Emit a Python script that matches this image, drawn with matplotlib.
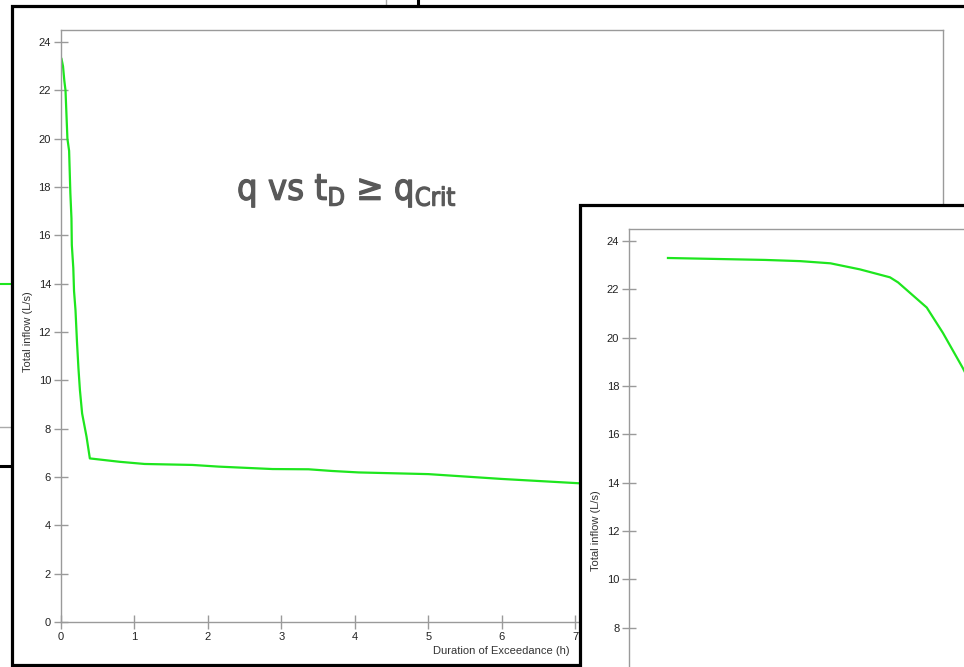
import matplotlib
matplotlib.use('Agg')
import matplotlib.pyplot as plt
import matplotlib.patheffects as pe
from matplotlib.patches import Rectangle
from matplotlib.lines import Line2D

# flow duration curve: total inflow exceeded for a given duration
duration_h = [0.01, 0.03, 0.048, 0.064, 0.09, 0.113, 0.13, 0.145, 0.15, 0.17,
              0.18, 0.2, 0.22, 0.24, 0.26, 0.29, 0.35, 0.395,
              0.8, 1.14, 1.79, 2.15, 2.88, 3.37, 3.69, 4.05, 5.0, 6.0, 7.0, 7.6]
inflow_ls = [23.3, 23.0, 22.4, 22.0, 20.0, 19.5, 17.75, 16.7, 15.6, 14.65,
             13.7, 12.9, 11.6, 10.5, 9.6, 8.63, 7.67, 6.77,
             6.63, 6.54, 6.5, 6.43, 6.33, 6.32, 6.25, 6.19, 6.12, 5.92, 5.75, 5.65]

# second panel, same axes layout
inset_h = [0.53, 1.85, 2.33, 2.74, 3.14, 3.55, 3.66, 4.05, 4.27, 4.54, 4.8]
inset_ls = [23.3, 23.22, 23.17, 23.08, 22.83, 22.5, 22.29, 21.25, 20.2, 18.75, 17.2]

y_ticks = list(range(0, 25, 2))
inset_y_ticks = list(range(8, 25, 2))
x_ticks = list(range(0, 13))

W, H = 964, 667
LINE = '#1ee61e'
SPINE = '#9a9a9a'
TXT = '#222222'
plt.rcParams['font.family'] = ['Liberation Sans', 'DejaVu Sans']


def fx(x):
    return x / W


def fy(y):
    return 1 - y / H


def style_axes(ax, yt):
    for s in ax.spines.values():
        s.set_color(SPINE)
        s.set_linewidth(1.0)
    ax.set_xlim(0, 12)
    ax.set_ylim(0, 24.5)
    ax.set_xticks(x_ticks)
    ax.set_yticks(yt)
    ax.tick_params(direction='inout', length=10, width=1, color=SPINE,
                   labelsize=8, labelcolor=TXT, pad=2)
    ax.set_ylabel('Total inflow (L/s)', fontsize=8, color='#333333')
    ax.yaxis.set_label_coords(-0.032, 0.49)


fig = plt.figure(figsize=(W / 100, H / 100), dpi=100)

# bits of the slides lying underneath
for (x0, y0, x1, y1, c, lw) in [(0, 284, 10, 284, LINE, 1.5),
                                (0, 427, 10, 427, '#aaaaaa', 1.0),
                                (0, 466, 10, 466, 'black', 2.2),
                                (386, 0, 386, 6, '#aaaaaa', 1.0),
                                (418, 0, 418, 6, 'black', 2.2)]:
    fig.add_artist(Line2D([fx(x0), fx(x1)], [fy(y0), fy(y1)], color=c, lw=lw, zorder=0))

# main panel frame
fig.add_artist(Rectangle((fx(11.5), fy(664.5)), 1.2, fy(6) - fy(664.5),
                         facecolor='white', edgecolor='black', lw=2.3, zorder=0.5))

ax = fig.add_axes([fx(60.8), fy(622), fx(943) - fx(60.8), fy(30) - fy(622)])
ax.set_zorder(1)
ax.patch.set_alpha(0)
style_axes(ax, y_ticks)
ax.plot(duration_h, inflow_ls, color=LINE, lw=1.6)
ax.set_xlabel('Duration of Exceedance (h)', fontsize=8, color='#333333',
              ha='right', va='center')
ax.xaxis.set_label_coords((570 - 60.8) / 882.2, (622 - 651) / 592)
title = ax.text((237 - 60.8) / 882.2, (622 - 200) / 592,
                r'q vs t$_\mathregular{D}$ ≥ q$_\mathregular{Crit}$',
                transform=ax.transAxes, fontsize=26, color='#595959',
                family='DejaVu Sans', fontstretch='condensed', fontweight='normal',
                va='baseline', ha='left')
# slightly heavier strokes for the heading
title.set_path_effects([pe.withStroke(linewidth=0.9, foreground='#595959')])

# overlapping panel on the lower right
fig.add_artist(Rectangle((fx(579.5), -0.5), 1.0, fy(204.5) + 0.5,
                         facecolor='white', edgecolor='black', lw=2.3, zorder=2))
ax2 = fig.add_axes([fx(629), fy(821), 882.2 / W, 592 / H])
ax2.set_zorder(3)
ax2.patch.set_alpha(0)
style_axes(ax2, inset_y_ticks)
ax2.tick_params(axis='x', labelbottom=False)
ax2.plot(inset_h, inset_ls, color=LINE, lw=1.6)

fig.savefig('out.png', dpi=100)
